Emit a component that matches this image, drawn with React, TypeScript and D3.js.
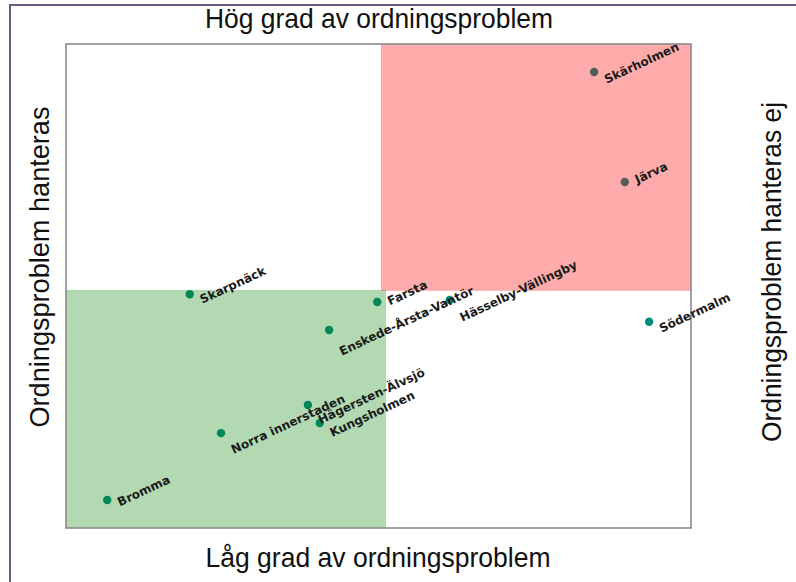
import React, { useEffect, useRef } from 'react';
import * as d3 from 'd3';

// district positions (x: degree of order problems, y: handled / not handled)
const districts = [
  'Skärholmen', 'Järva', 'Skarpnäck', 'Farsta', 'Enskede-Årsta-Vantör',
  'Hässelby-Vällingby', 'Södermalm', 'Norra innerstaden', 'Hägersten-Älvsjö',
  'Kungsholmen', 'Bromma',
];
const xValues = [8.45, 8.94, 1.98, 4.98, 4.21, 6.14, 9.33, 2.48, 3.87, 4.06, 0.66];
const yValues = [9.42, 7.15, 4.83, 4.67, 4.09, 4.71, 4.26, 1.96, 2.54, 2.17, 0.58];

// quadrant shading [x0, x1, y0, y1]
const redZone = [5.04, 10, 4.9, 10];
const greenZone = [0, 5.12, 0, 4.92];

const topTitle = 'Hög grad av ordningsproblem';
const bottomTitle = 'Låg grad av ordningsproblem';
const leftTitle = 'Ordningsproblem hanteras';
const rightTitle = 'Ordningsproblem hanteras ej';

function App() {
  const ref = useRef(null);

  useEffect(() => {
    const W = 796, H = 582;
    const plot = { left: 66, right: 691, top: 44, bottom: 528 };

    d3.select(ref.current).select('svg').remove();

    const svg = d3.select(ref.current)
      .append('svg')
        .attr('width', W)
        .attr('height', H)
        .style('position', 'absolute')
        .style('left', 0)
        .style('top', 0)
        .style('background', '#fff');

    // outer frame (runs off the right/bottom edge)
    svg.append('rect')
      .attr('x', 10).attr('y', 5)
      .attr('width', 900).attr('height', 900)
      .attr('fill', '#fff')
      .attr('stroke', '#6f5d80')
      .attr('stroke-width', 2);

    const x = d3.scaleLinear().domain([0, 10]).range([plot.left, plot.right]);
    const y = d3.scaleLinear().domain([0, 10]).range([plot.bottom, plot.top]);

    // points first, shading is laid over them
    svg.append('g')
      .selectAll('circle')
      .data(districts)
      .join('circle')
        .attr('cx', (d, i) => x(xValues[i]))
        .attr('cy', (d, i) => y(yValues[i]))
        .attr('r', 4.2)
        .attr('fill', '#008b80');

    const zone = (z, color, op) => {
      svg.append('rect')
        .attr('x', x(z[0]))
        .attr('y', y(z[3]))
        .attr('width', x(z[1]) - x(z[0]))
        .attr('height', y(z[2]) - y(z[3]))
        .attr('fill', color)
        .attr('fill-opacity', op);
    };
    zone(redZone, '#ff0000', 0.33);
    zone(greenZone, '#008000', 0.3);

    // plot border
    svg.append('rect')
      .attr('x', plot.left).attr('y', plot.top)
      .attr('width', plot.right - plot.left)
      .attr('height', plot.bottom - plot.top)
      .attr('fill', 'none')
      .attr('stroke', '#8a8a8a')
      .attr('stroke-width', 1.6);

    // rotated labels: bbox left edge beside the point, centred a bit above it
    const ang = 25 * Math.PI / 180;
    const labels = svg.append('g')
      .style('font-family', '"DejaVu Sans", sans-serif')
      .style('font-weight', 'bold')
      .style('font-size', '12px');
    districts.forEach((name, i) => {
      const t = labels.append('text')
        .attr('text-anchor', 'middle')
        .attr('dominant-baseline', 'central')
        .attr('fill', '#1a1a1a')
        .text(name);
      const L = t.node().getComputedTextLength();
      const h = 9;
      const cx = x(xValues[i]) + 9 + (L * Math.cos(ang) + h * Math.sin(ang)) / 2;
      const cy = y(yValues[i]) - 9;
      t.attr('transform', `translate(${cx},${cy}) rotate(-25)`);
    });

    // quadrant titles
    const title = (txt, cx, cy, len, rot) => {
      svg.append('text')
        .attr('transform', `translate(${cx},${cy}) rotate(${rot})`)
        .attr('text-anchor', 'middle')
        .attr('dominant-baseline', 'central')
        .attr('textLength', len)
        .attr('lengthAdjust', 'spacingAndGlyphs')
        .style('font-family', '"Liberation Sans", Arial, sans-serif')
        .style('font-size', '28px')
        .attr('fill', '#111')
        .text(txt);
    };
    title(topTitle, 379, 18, 348, 0);
    title(bottomTitle, 378, 557, 345, 0);
    title(leftTitle, 39, 267, 321, -90);
    title(rightTitle, 771, 272, 340, -90);
  }, []);

  return <div ref={ref}></div>;
}

export default App;
